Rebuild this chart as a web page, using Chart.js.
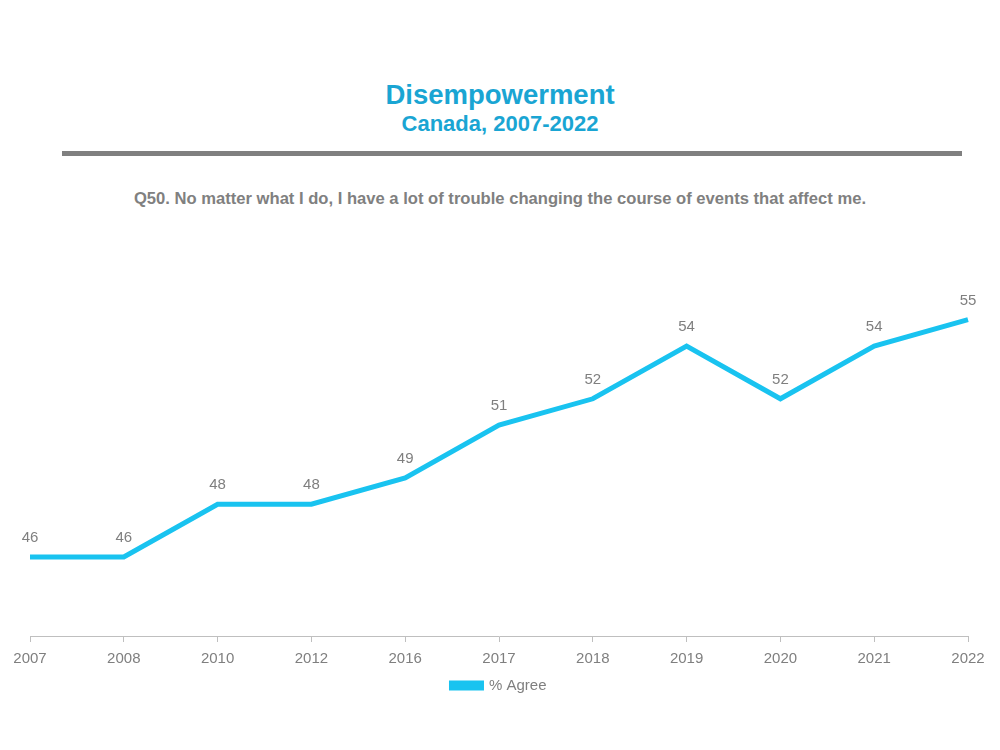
<!DOCTYPE html>
<html>
<head>
<meta charset="utf-8">
<script src="https://cdn.jsdelivr.net/npm/chart.js@4.4.1/dist/chart.umd.min.js"></script>
<style>
  html, body { margin:0; padding:0; background:#fff; }
  body { width:1000px; height:750px; position:relative; overflow:hidden; font-family:"Liberation Sans", Arial, sans-serif; }
  .t1 { position:absolute; left:0; width:1000px; top:78px; text-align:center; color:#1AA5D3; font-weight:bold; font-size:27.5px; line-height:34px; }
  .t2 { position:absolute; left:0; width:1000px; top:111px; text-align:center; color:#1AA5D3; font-weight:bold; font-size:22px; line-height:26px; }
  .rule { position:absolute; left:62px; width:900px; top:151px; height:5px; background:#808080; }
  .q { position:absolute; left:0; width:1000px; top:189px; text-align:center; color:#808080; font-weight:bold; font-size:16.6px; line-height:20px; }
  #c { position:absolute; left:0; top:0; }
</style>
</head>
<body>
<div class="t1">Disempowerment</div>
<div class="t2">Canada, 2007-2022</div>
<div class="rule"></div>
<div class="q">Q50. No matter what I do, I have a lot of trouble changing the course of events that affect me.</div>
<canvas id="c" width="1000" height="750"></canvas>
<script>
const years = ["2007","2008","2010","2012","2016","2017","2018","2019","2020","2021","2022"];
const agree = [46,46,48,48,49,51,52,54,52,54,55];
const seriesName = "% Agree";

const FONT = '"Liberation Sans", Arial, sans-serif';

const labelPlugin = {
  id: 'pointLabels',
  afterDatasetsDraw(chart) {
    const ctx = chart.ctx;
    const meta = chart.getDatasetMeta(0);
    ctx.save();
    ctx.font = '15px ' + FONT;
    ctx.fillStyle = '#7F7F7F';
    ctx.textAlign = 'center';
    ctx.textBaseline = 'middle';
    meta.data.forEach((pt, i) => {
      ctx.fillText(String(agree[i]), pt.x, pt.y - 19);
    });
    ctx.restore();
  }
};

new Chart(document.getElementById('c'), {
  type: 'line',
  data: {
    labels: years,
    datasets: [{
      label: seriesName,
      data: agree,
      borderColor: '#19C3F0',
      backgroundColor: '#19C3F0',
      borderWidth: 5,
      pointRadius: 0,
      tension: 0,
      fill: false
    }]
  },
  options: {
    responsive: false,
    animation: false,
    layout: { padding: { left: 30, right: 32, top: 267, bottom: 47 } },
    scales: {
      x: {
        offset: false,
        grid: { drawOnChartArea: false, drawTicks: true, tickLength: 6, color: '#BFBFBF' },
        border: { color: '#BFBFBF', width: 1 },
        ticks: { color: '#7F7F7F', font: { size: 15, family: FONT }, padding: 8, maxRotation: 0, autoSkip: false }
      },
      y: {
        display: false,
        min: 43,
        max: 57
      }
    },
    plugins: {
      legend: {
        position: 'bottom',
        labels: {
          boxWidth: 30,
          boxHeight: 5,
          color: '#7F7F7F',
          font: { size: 15, family: FONT },
          padding: 2
        }
      },
      tooltip: { enabled: false }
    }
  },
  plugins: [labelPlugin]
});
</script>
</body>
</html>
